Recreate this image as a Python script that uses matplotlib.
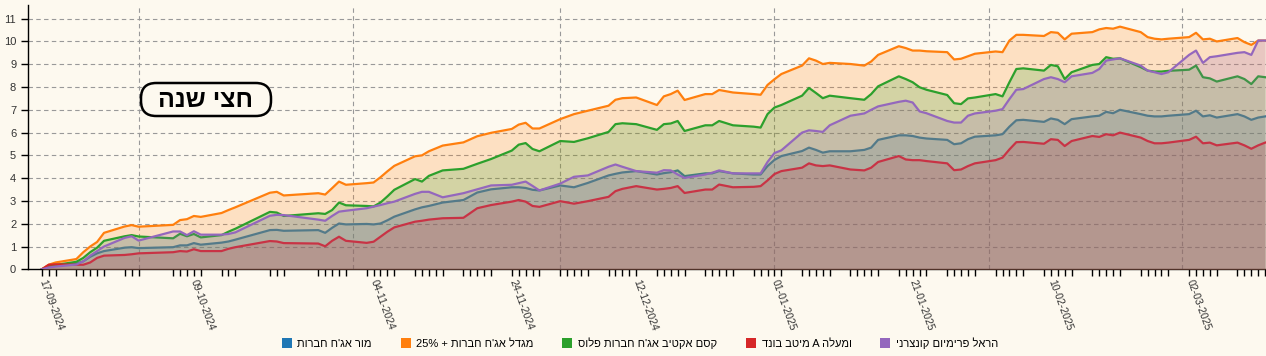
import re
import pandas as pd
import matplotlib
matplotlib.use('Agg')
import matplotlib.pyplot as plt
import matplotlib.dates as mdates
from matplotlib.patches import Patch, FancyBboxPatch

dates = ['2024-09-17', '2024-09-18', '2024-09-19', '2024-09-22', '2024-09-23', '2024-09-24',
         '2024-09-25', '2024-09-26', '2024-09-29', '2024-09-30', '2024-10-01', '2024-10-06',
         '2024-10-07', '2024-10-08', '2024-10-09', '2024-10-10', '2024-10-13', '2024-10-14',
         '2024-10-15', '2024-10-20', '2024-10-21', '2024-10-22', '2024-10-27', '2024-10-28',
         '2024-10-29', '2024-10-30', '2024-10-31', '2024-11-03', '2024-11-04', '2024-11-05',
         '2024-11-06', '2024-11-07', '2024-11-10', '2024-11-11', '2024-11-12', '2024-11-14',
         '2024-11-17', '2024-11-19', '2024-11-21', '2024-11-24', '2024-11-25', '2024-11-26',
         '2024-11-27', '2024-11-28', '2024-12-01', '2024-12-03', '2024-12-05', '2024-12-08',
         '2024-12-09', '2024-12-10', '2024-12-12', '2024-12-15', '2024-12-16', '2024-12-17',
         '2024-12-18', '2024-12-19', '2024-12-22', '2024-12-23', '2024-12-24', '2024-12-26',
         '2024-12-29', '2024-12-30', '2024-12-31', '2025-01-01', '2025-01-02', '2025-01-05',
         '2025-01-06', '2025-01-07', '2025-01-08', '2025-01-09', '2025-01-12', '2025-01-14',
         '2025-01-15', '2025-01-16', '2025-01-19', '2025-01-20', '2025-01-21', '2025-01-22',
         '2025-01-23', '2025-01-26', '2025-01-27', '2025-01-28', '2025-01-29', '2025-01-30',
         '2025-02-02', '2025-02-03', '2025-02-04', '2025-02-05', '2025-02-06', '2025-02-09',
         '2025-02-10', '2025-02-11', '2025-02-12', '2025-02-13', '2025-02-16', '2025-02-17',
         '2025-02-18', '2025-02-19', '2025-02-20', '2025-02-23', '2025-02-24', '2025-02-25',
         '2025-02-26', '2025-02-27', '2025-03-02', '2025-03-03', '2025-03-04', '2025-03-05',
         '2025-03-06', '2025-03-09', '2025-03-10', '2025-03-11', '2025-03-12', '2025-03-13']

mor = [0, 0.12, 0.16, 0.25, 0.35, 0.55, 0.7, 0.8, 0.95, 0.97, 0.93, 0.97,
       1.05, 1.05, 1.15, 1.08, 1.17, 1.22, 1.3, 1.72, 1.73, 1.69, 1.72, 1.6,
       1.82, 2.01, 1.97, 1.99, 1.97, 2.01, 2.15, 2.31, 2.63, 2.72, 2.78, 2.93,
       3.04, 3.37, 3.51, 3.6, 3.6, 3.57, 3.49, 3.46, 3.68, 3.6, 3.79, 4.12,
       4.19, 4.25, 4.31, 4.16, 4.22, 4.26, 4.34, 4.09, 4.21, 4.21, 4.31, 4.21,
       4.16, 4.16, 4.53, 4.8, 4.97, 5.19, 5.34, 5.24, 5.12, 5.18, 5.18, 5.24,
       5.34, 5.68, 5.88, 5.88, 5.85, 5.78, 5.74, 5.68, 5.49, 5.53, 5.71, 5.82,
       5.88, 5.93, 6.26, 6.54, 6.56, 6.47, 6.62, 6.56, 6.37, 6.59, 6.71, 6.74,
       6.91, 6.85, 7.0, 6.81, 6.74, 6.71, 6.71, 6.74, 6.81, 6.96, 6.71, 6.76,
       6.66, 6.81, 6.71, 6.56, 6.66, 6.71]

migdal = [0, 0.2, 0.3, 0.45, 0.75, 1.0, 1.2, 1.6, 1.88, 1.94, 1.87, 1.95,
          2.16, 2.2, 2.34, 2.3, 2.47, 2.6, 2.72, 3.36, 3.4, 3.24, 3.34, 3.28,
          3.56, 3.85, 3.71, 3.78, 3.81, 4.04, 4.3, 4.54, 4.96, 5.0, 5.18, 5.43,
          5.57, 5.84, 5.99, 6.16, 6.35, 6.43, 6.18, 6.18, 6.59, 6.81, 6.96, 7.18,
          7.44, 7.51, 7.54, 7.21, 7.59, 7.69, 7.84, 7.43, 7.69, 7.69, 7.87, 7.76,
          7.69, 7.66, 8.09, 8.34, 8.57, 8.94, 9.26, 9.16, 9.01, 9.06, 9.01, 8.94,
          9.12, 9.41, 9.79, 9.71, 9.6, 9.6, 9.57, 9.53, 9.21, 9.24, 9.35, 9.46,
          9.56, 9.53, 10.04, 10.29, 10.29, 10.24, 10.41, 10.38, 10.09, 10.34, 10.41, 10.53,
          10.59, 10.56, 10.65, 10.41, 10.19, 10.12, 10.09, 10.12, 10.19, 10.38, 10.09, 10.12,
          10.0, 10.15, 9.97, 9.85, 10.04, 10.04]

kesem = [0, 0.12, 0.19, 0.33, 0.5, 0.75, 0.95, 1.25, 1.45, 1.5, 1.44, 1.36,
         1.56, 1.45, 1.55, 1.4, 1.5, 1.65, 1.78, 2.52, 2.49, 2.34, 2.46, 2.43,
         2.6, 2.93, 2.81, 2.78, 2.76, 2.93, 3.2, 3.49, 3.96, 3.85, 4.1, 4.34,
         4.41, 4.63, 4.84, 5.21, 5.47, 5.54, 5.28, 5.18, 5.63, 5.59, 5.75, 6.03,
         6.37, 6.41, 6.37, 6.12, 6.37, 6.4, 6.51, 6.07, 6.32, 6.32, 6.51, 6.32,
         6.26, 6.22, 6.81, 7.1, 7.21, 7.62, 7.96, 7.74, 7.51, 7.62, 7.51, 7.44,
         7.69, 8.03, 8.47, 8.35, 8.21, 7.99, 7.88, 7.65, 7.29, 7.25, 7.5, 7.54,
         7.69, 7.59, 8.21, 8.79, 8.82, 8.72, 8.97, 8.91, 8.35, 8.65, 8.97, 9.01,
         9.31, 9.24, 9.26, 8.87, 8.72, 8.68, 8.68, 8.71, 8.76, 8.94, 8.43, 8.38,
         8.24, 8.47, 8.35, 8.13, 8.47, 8.43]

meitav = [0, 0.2, 0.22, 0.2, 0.2, 0.3, 0.5, 0.6, 0.63, 0.66, 0.7, 0.75,
          0.8, 0.78, 0.88, 0.8, 0.8, 0.9, 0.97, 1.24, 1.22, 1.15, 1.13, 1.01,
          1.25, 1.43, 1.25, 1.16, 1.21, 1.43, 1.65, 1.84, 2.09, 2.13, 2.18, 2.24,
          2.26, 2.68, 2.82, 2.97, 3.04, 2.97, 2.78, 2.74, 2.99, 2.88, 2.99, 3.18,
          3.43, 3.53, 3.65, 3.5, 3.53, 3.57, 3.65, 3.35, 3.5, 3.5, 3.72, 3.6,
          3.62, 3.65, 3.9, 4.18, 4.31, 4.46, 4.65, 4.56, 4.53, 4.56, 4.38, 4.34,
          4.46, 4.71, 4.97, 4.82, 4.79, 4.79, 4.75, 4.65, 4.35, 4.38, 4.53, 4.65,
          4.79, 4.9, 5.26, 5.58, 5.59, 5.51, 5.71, 5.68, 5.41, 5.63, 5.85, 5.81,
          5.93, 5.88, 6.0, 5.78, 5.63, 5.53, 5.53, 5.56, 5.68, 5.82, 5.53, 5.56,
          5.44, 5.56, 5.44, 5.29, 5.44, 5.56]

harel = [0, 0.08, 0.12, 0.21, 0.35, 0.6, 0.8, 1.0, 1.38, 1.45, 1.26, 1.66,
         1.66, 1.5, 1.67, 1.52, 1.52, 1.55, 1.62, 2.35, 2.39, 2.38, 2.18, 2.13,
         2.34, 2.53, 2.57, 2.68, 2.75, 2.82, 2.9, 2.97, 3.31, 3.4, 3.4, 3.16,
         3.34, 3.51, 3.68, 3.71, 3.78, 3.85, 3.66, 3.46, 3.76, 4.06, 4.12, 4.5,
         4.6, 4.5, 4.31, 4.24, 4.35, 4.34, 4.16, 4.01, 4.16, 4.24, 4.34, 4.21,
         4.21, 4.21, 4.71, 5.1, 5.22, 6.0, 6.1, 6.07, 6.03, 6.32, 6.74, 6.84,
         7.0, 7.15, 7.35, 7.4, 7.32, 6.93, 6.85, 6.51, 6.44, 6.44, 6.74, 6.84,
         6.96, 7.03, 7.47, 7.88, 7.91, 8.35, 8.43, 8.35, 8.21, 8.47, 8.62, 8.79,
         9.16, 9.21, 9.26, 8.94, 8.72, 8.65, 8.57, 8.65, 9.41, 9.6, 9.06, 9.31,
         9.35, 9.5, 9.53, 9.41, 10.04, 10.04]

names = ["מור אג'ח חברות", "מגדל אג'ח חברות + 25%", "קסם אקטיב אג'ח חברות פלוס",
         "ומעלה A מיטב בונד", "הראל פרימיום קונצרני"]
colors = ['#1f77b4', '#ff7f0e', '#2ca02c', '#d62728', '#9467bd']
label_dates = ['2024-09-17', '2024-10-09', '2024-11-04', '2024-11-24', '2024-12-12',
               '2025-01-01', '2025-01-21', '2025-02-10', '2025-03-02']
holidays = ['2024-10-02', '2024-10-03', '2024-10-16', '2024-10-17', '2024-10-23', '2024-10-24']
title = 'חצי שנה'

bg = '#fdf9ef'
W, H = 1266, 356


def rtl(s):
    # matplotlib has no bidi, so flip Hebrew and keep latin/number runs in order
    r = s[::-1]
    return re.sub(r'[A-Za-z0-9%.]+', lambda m: m.group(0)[::-1], r)


plt.rcParams['font.family'] = ['Liberation Sans', 'DejaVu Sans']

x = pd.to_datetime(dates)
series = [mor, migdal, kesem, meitav, harel]

fig = plt.figure(figsize=(W / 100, H / 100), dpi=100, facecolor=bg)
ax = fig.add_axes([28 / W, 1 - 269.3 / H, 1 - 28 / W, 264.3 / H])
ax.set_facecolor(bg)

# each fill covers the lines drawn before it, like the original svg
for i, (vals, c) in enumerate(zip(series, colors)):
    ax.fill_between(x, 0, vals, color=c, alpha=0.2, lw=0, zorder=2 + 2 * i)
    ax.plot(x, vals, color=c, lw=1.6, solid_joinstyle='round', zorder=3 + 2 * i)

ax.set_ylim(0, 11.6)
ax.set_xlim(pd.Timestamp('2024-09-15'), pd.Timestamp('2025-03-13 03:00'))
ax.set_yticks(range(0, 12))

# one small tick per trading day (Sun-Thu)
trading = pd.bdate_range('2024-09-17', '2025-03-13', freq='C',
                         weekmask='Sun Mon Tue Wed Thu', holidays=holidays)
ax.set_xticks(trading, minor=True)
ax.set_xticks(pd.to_datetime(label_dates))
ax.xaxis.set_major_formatter(mdates.DateFormatter('%d-%m-%Y'))
ax.tick_params(axis='x', which='both', length=5, width=1, color='black')
ax.tick_params(axis='x', which='major', labelsize=7.5, labelcolor='#333333', pad=3)
ax.tick_params(axis='y', length=5, width=1, labelsize=8, labelcolor='#333333')
for lab in ax.get_xticklabels():
    lab.set_rotation(-70)
    lab.set_rotation_mode('anchor')
    lab.set_ha('left')
    lab.set_va('center')

# grid: dashed horizontal at each unit, vertical at month starts
for v in range(1, 12):
    ax.axhline(v, color='#999999', lw=0.8, ls=(0, (4, 3)), zorder=1)
for m in pd.date_range('2024-10-01', '2025-03-01', freq='MS'):
    ax.axvline(m, color='#999999', lw=0.8, ls=(0, (4, 3)), zorder=1)

for s in ['top', 'right']:
    ax.spines[s].set_visible(False)
ax.spines['left'].set_linewidth(1)
ax.spines['bottom'].set_linewidth(1)

# rounded title box
box = FancyBboxPatch((141 / W, 1 - 116 / H), 130 / W, 33 / H, transform=fig.transFigure,
                     boxstyle='round,pad=0,rounding_size=0.012', mutation_aspect=W / H,
                     fc=bg, ec='black', lw=1.8, zorder=20)
fig.add_artist(box)
fig.text(206 / W, 1 - 100 / H, rtl(title), ha='center', va='center', fontsize=18,
         fontweight='bold', color='black', zorder=21)

handles = [Patch(facecolor=c, edgecolor='none') for c in colors]
fig.legend(handles, [rtl(n) for n in names], loc='center', bbox_to_anchor=(0.5 + 7 / W, 13 / H),
           ncol=5, frameon=False, fontsize=8, handlelength=0.9, handleheight=0.9,
           handletextpad=0.5, columnspacing=2.6, borderpad=0, borderaxespad=0)

fig.savefig('out.png', dpi=100, facecolor=bg)
